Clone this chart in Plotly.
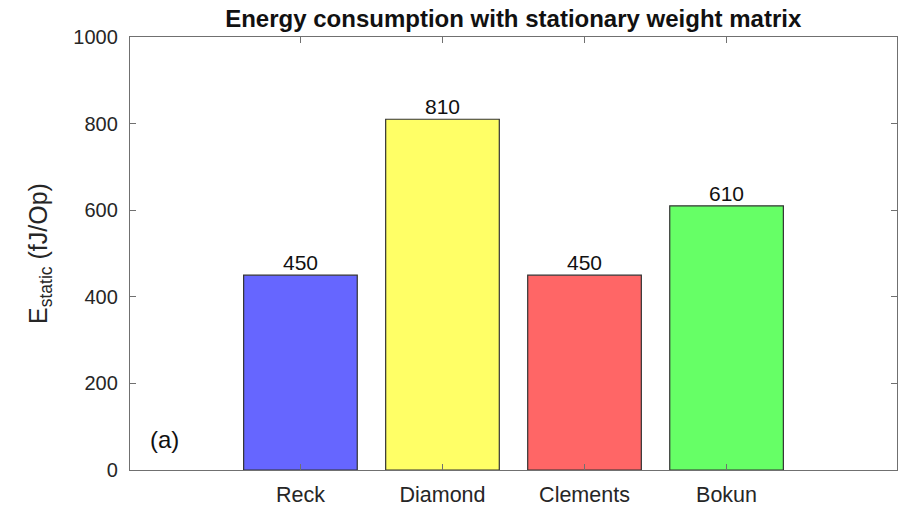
import plotly.graph_objects as go

# Static energy per operation for each mesh architecture
categories = ["Reck", "Diamond", "Clements", "Bokun"]
energy = [450, 810, 450, 610]
bar_colors = ["#6666FF", "#FFFF66", "#FF6666", "#66FF66"]
y_ticks = [0, 200, 400, 600, 800, 1000]

positions = list(range(1, len(categories) + 1))
FONT = "Liberation Sans, Arial, sans-serif"
INK = "#262626"
AXIS = "#707070"

fig = go.Figure()
fig.add_trace(go.Bar(
    x=positions,
    y=energy,
    width=0.8,
    marker=dict(color=bar_colors, line=dict(color="#333333", width=1.2)),
    showlegend=False,
))

# Value labels sitting on top of each bar
for xp, val in zip(positions, energy):
    fig.add_annotation(
        x=xp, y=val, text=str(val), showarrow=False,
        xanchor="center", yanchor="bottom", yshift=-1,
        font=dict(family=FONT, size=21, color="#111111"),
    )

# Panel tag
fig.add_annotation(
    x=0.04, y=70, text="(a)", showarrow=False,
    xanchor="center", yanchor="middle",
    font=dict(family=FONT, size=24, color="#111111"),
)

axis_common = dict(
    showline=True, linecolor=AXIS, linewidth=1.3, mirror="ticks",
    ticks="inside", ticklen=6, tickwidth=1.2, tickcolor=AXIS,
    showgrid=False, zeroline=False, automargin=False,
)

fig.update_layout(
    width=910, height=508,
    margin=dict(l=130, r=13, t=37, b=38),
    paper_bgcolor="white", plot_bgcolor="white",
    title=dict(
        text="<b>Energy consumption with stationary weight matrix</b>",
        x=0.564, xanchor="center", y=0.963, yanchor="middle",
        font=dict(family=FONT, size=24, color="#111111"),
    ),
    xaxis=dict(
        range=[-0.2, 5.2], tickvals=positions, ticktext=categories,
        ticklabelstandoff=5,
        tickfont=dict(family=FONT, size=21.5, color=INK),
        **axis_common,
    ),
    yaxis=dict(
        range=[0, 1000], tickvals=y_ticks,
        ticklabelstandoff=7,
        tickfont=dict(family=FONT, size=20, color=INK),
        title=dict(text="E<sub>static</sub> (fJ/Op)", standoff=18,
                   font=dict(family=FONT, size=25, color=INK)),
        **axis_common,
    ),
    bargap=0.2,
)

fig.write_html("out.html")
